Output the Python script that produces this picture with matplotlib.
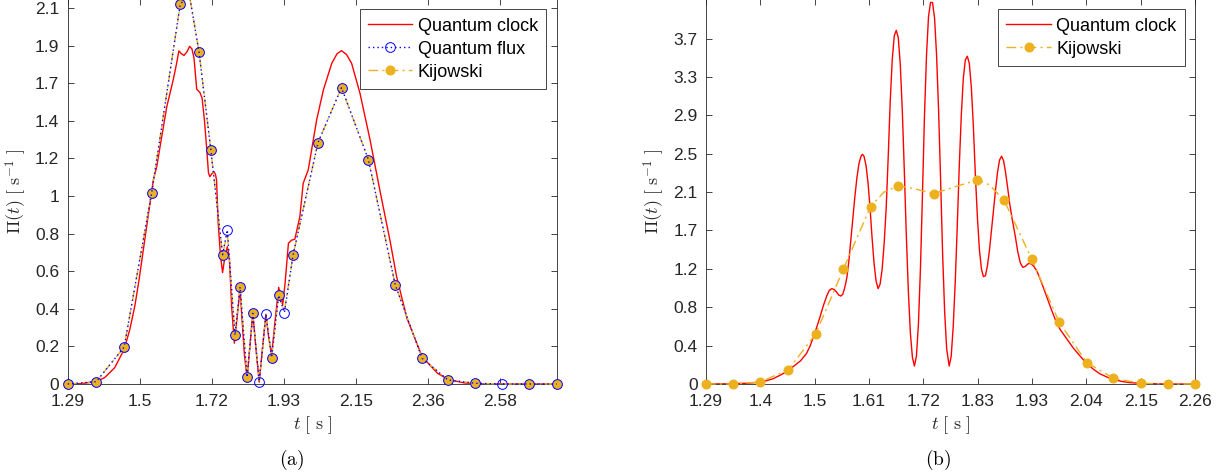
import matplotlib
matplotlib.use('Agg')
import matplotlib.pyplot as plt
import numpy as np

# ---- panel (a) data ----
t_clock_a = [1.290, 1.330, 1.375, 1.400, 1.430, 1.458, 1.475, 1.490, 1.503, 1.515,
             1.530, 1.545, 1.555, 1.570, 1.585, 1.604, 1.614, 1.621, 1.628, 1.636,
             1.645, 1.653, 1.660, 1.666, 1.674, 1.684, 1.690, 1.697, 1.704, 1.709,
             1.713, 1.719, 1.726, 1.730, 1.733, 1.738, 1.745, 1.751, 1.758, 1.765,
             1.771, 1.778, 1.786, 1.794, 1.803, 1.809, 1.816, 1.824, 1.832, 1.841,
             1.850, 1.860, 1.870, 1.880, 1.888, 1.897, 1.908, 1.918, 1.924, 1.930,
             1.937, 1.947, 1.956, 1.966, 1.981, 1.991, 2.006, 2.021, 2.031, 2.051,
             2.076, 2.092, 2.105, 2.120, 2.135, 2.160, 2.190, 2.219, 2.249, 2.269,
             2.300, 2.345, 2.390, 2.422, 2.470, 2.520, 2.746]
clock_a = [0.000, 0.002, 0.013, 0.035, 0.090, 0.190, 0.300, 0.430, 0.580, 0.736,
           0.930, 1.121, 1.194, 1.360, 1.524, 1.670, 1.760, 1.830, 1.815, 1.805,
           1.825, 1.855, 1.840, 1.790, 1.620, 1.600, 1.570, 1.450, 1.286, 1.160,
           1.139, 1.155, 1.166, 1.150, 1.121, 0.883, 0.700, 0.612, 0.700, 0.754,
           0.700, 0.425, 0.224, 0.360, 0.526, 0.350, 0.160, 0.031, 0.200, 0.388,
           0.200, 0.010, 0.200, 0.383, 0.260, 0.159, 0.360, 0.531, 0.480, 0.434,
           0.553, 0.773, 0.790, 0.795, 0.919, 1.103, 1.176, 1.341, 1.451, 1.615,
           1.762, 1.815, 1.831, 1.810, 1.762, 1.597, 1.341, 1.066, 0.791, 0.590,
           0.360, 0.150, 0.060, 0.025, 0.006, 0.000, 0.000]

t_approx_a = [1.290, 1.375, 1.458, 1.540, 1.625, 1.652, 1.681, 1.716, 1.751, 1.765,
              1.788, 1.803, 1.824, 1.841, 1.860, 1.880, 1.897, 1.918, 1.935, 1.961,
              2.035, 2.105, 2.185, 2.265, 2.345, 2.422, 2.503, 2.584, 2.664, 2.746]
flux_a = [0.000, 0.013, 0.203, 1.051, 2.086, 2.140, 1.822, 1.287, 0.710, 0.846,
          0.268, 0.533, 0.037, 0.388, 0.013, 0.383, 0.145, 0.487, 0.392, 0.710,
          1.326, 1.628, 1.233, 0.544, 0.141, 0.022, 0.004, 0.000, 0.000, 0.000]
kij_a = [0.000, 0.013, 0.203, 1.051, 2.086, 2.140, 1.822, 1.287, 0.710, 0.830,
         0.268, 0.533, 0.037, 0.388, 0.013, 0.380, 0.145, 0.487, 0.400, 0.710,
         1.326, 1.628, 1.233, 0.544, 0.141, 0.022, 0.004, 0.000, 0.000, 0.000]
flux_marks_a = [i for i in range(len(t_approx_a)) if i != 5]
kij_marks_a = [i for i in range(len(t_approx_a)) if i not in (5, 9, 14, 15, 18, 27)]

xlabels_a = ['1.29', '1.5', '1.72', '1.93', '2.15', '2.36', '2.58']
ylabels_a = ['0', '0.2', '0.4', '0.6', '0.8', '1', '1.2', '1.4', '1.7', '1.9', '2.1']

# ---- panel (b) data ----
t_clock_b = [1.2875, 1.330, 1.370, 1.398, 1.420, 1.440, 1.461, 1.475, 1.487, 1.494,
             1.500, 1.507, 1.514, 1.520, 1.527, 1.532, 1.537, 1.542, 1.547, 1.551,
             1.555, 1.559, 1.563, 1.567, 1.571, 1.575, 1.579, 1.583, 1.587, 1.591,
             1.595, 1.598, 1.601, 1.605, 1.609, 1.613, 1.617, 1.621, 1.625, 1.629,
             1.633, 1.637, 1.641, 1.645, 1.649, 1.653, 1.657, 1.661, 1.665, 1.669,
             1.673, 1.677, 1.681, 1.685, 1.689, 1.693, 1.697, 1.701, 1.705, 1.709,
             1.713, 1.717, 1.721, 1.725, 1.729, 1.733, 1.737, 1.741, 1.745, 1.749,
             1.753, 1.757, 1.761, 1.765, 1.770, 1.774, 1.778, 1.782, 1.786, 1.790,
             1.794, 1.798, 1.802, 1.806, 1.810, 1.814, 1.818, 1.822, 1.826, 1.830,
             1.834, 1.838, 1.842, 1.846, 1.850, 1.854, 1.858, 1.862, 1.866, 1.870,
             1.874, 1.878, 1.882, 1.886, 1.890, 1.895, 1.901, 1.906, 1.911, 1.916,
             1.921, 1.927, 1.932, 1.938, 1.944, 1.950, 1.957, 1.965, 1.973, 1.981,
             1.990, 2.003, 2.016, 2.030, 2.043, 2.056, 2.069, 2.083, 2.096, 2.115,
             2.130, 2.160, 2.200, 2.2577]
clock_b = [0.000, 0.002, 0.008, 0.022, 0.055, 0.110, 0.190, 0.250, 0.330, 0.410,
           0.500, 0.610, 0.730, 0.840, 0.950, 1.010, 1.030, 1.020, 0.990, 0.960,
           0.950, 0.970, 1.045, 1.150, 1.330, 1.560, 1.800, 2.030, 2.230, 2.380,
           2.460, 2.480, 2.460, 2.360, 2.170, 1.900, 1.580, 1.300, 1.110, 1.030,
           1.080, 1.240, 1.520, 1.900, 2.450, 3.050, 3.500, 3.760, 3.820, 3.740,
           3.450, 2.950, 2.300, 1.600, 1.000, 0.550, 0.290, 0.194, 0.300, 0.650,
           1.250, 2.050, 2.900, 3.550, 3.970, 4.120, 4.120, 3.950, 3.550, 2.950,
           2.200, 1.400, 0.780, 0.380, 0.194, 0.300, 0.620, 1.100, 1.700, 2.350,
           2.900, 3.300, 3.500, 3.540, 3.460, 3.200, 2.780, 2.250, 1.800, 1.450,
           1.240, 1.160, 1.170, 1.280, 1.450, 1.660, 1.880, 2.100, 2.290, 2.420,
           2.460, 2.410, 2.280, 2.120, 1.950, 1.780, 1.600, 1.430, 1.310, 1.260,
           1.270, 1.300, 1.300, 1.270, 1.220, 1.140, 1.040, 0.920, 0.800, 0.690,
           0.590, 0.490, 0.390, 0.300, 0.220, 0.160, 0.110, 0.075, 0.048, 0.025,
           0.014, 0.004, 0.000, 0.000]

t_kij_b = [1.2875, 1.3414, 1.3953, 1.451, 1.505, 1.560, 1.614, 1.640, 1.669, 1.700,
           1.739, 1.780, 1.826, 1.850, 1.879, 1.934, 1.988, 2.043, 2.096, 2.150,
           2.204, 2.2577]
kij_b = [0.000, 0.000, 0.022, 0.155, 0.540, 1.239, 1.916, 2.070, 2.142, 2.110,
         2.056, 2.127, 2.205, 2.150, 1.984, 1.347, 0.670, 0.231, 0.062, 0.008,
         0.000, 0.000]
kij_marks_b = [i for i in range(len(t_kij_b)) if i not in (7, 9, 11, 13)]

xlabels_b = ['1.29', '1.4', '1.5', '1.61', '1.72', '1.83', '1.93', '2.04', '2.15', '2.26']
ylabels_b = ['0', '0.4', '0.8', '1.2', '1.7', '2.1', '2.5', '2.9', '3.3', '3.7']

RED = '#ff0000'
BLUE = '#0000ff'
ORANGE = '#edb120'
DARK = '#262626'

plt.rcParams['font.family'] = ['Liberation Sans', 'DejaVu Sans']
plt.rcParams['mathtext.fontset'] = 'cm'


def style_axes(ax, xticks, xlabels, yticks, ylabels, xlim, ylim):
    ax.set_xlim(*xlim)
    ax.set_ylim(*ylim)
    ax.set_xticks(xticks)
    ax.set_xticklabels(xlabels)
    ax.set_yticks(yticks)
    ax.set_yticklabels(ylabels)
    ax.tick_params(direction='in', length=4, width=0.6, top=True, right=True,
                   colors=DARK, labelsize=12.5)
    ax.tick_params(axis='x', pad=7)
    ax.tick_params(axis='y', pad=6)
    for s in ax.spines.values():
        s.set_color(DARK)
        s.set_linewidth(0.6)
    ax.set_xlabel(r'$t\ [\ \mathrm{s}\ ]$', fontsize=13, color=DARK, labelpad=4)
    ax.set_ylabel(r'$\Pi(t)\ [\ \mathrm{s}^{-1}\ ]$', fontsize=13, color=DARK)
    ax.yaxis.set_label_coords(-39 / 489, 0.5)


def legend(ax, handles):
    lg = ax.legend(handles=handles, loc='upper right', fontsize=13,
                   fancybox=False, framealpha=1, edgecolor=DARK,
                   borderaxespad=0.58, borderpad=0.45, labelspacing=0.33,
                   handlelength=2.45, handletextpad=0.3)
    lg.get_frame().set_linewidth(0.6)


fig = plt.figure(figsize=(12.22, 4.75), dpi=100)
ax_a = fig.add_axes([0.0554, 0.19158, 0.40016, 0.81053])
ax_b = fig.add_axes([0.57774, 0.19158, 0.40016, 0.81053])

dashdot = (0, (7, 3, 1.5, 3))

# (a)
l1, = ax_a.plot(t_clock_a, clock_a, color=RED, lw=1.0, zorder=2, label='Quantum clock')
l3, = ax_a.plot(t_approx_a, kij_a, color=ORANGE, lw=1.0, ls=dashdot, marker='o',
                ms=6.2, mfc=ORANGE, mec=ORANGE, markevery=kij_marks_a,
                zorder=3, clip_on=False, label='Kijowski')
l2, = ax_a.plot(t_approx_a, flux_a, color=BLUE, lw=1.0, ls=(0, (1, 2.2)), marker='o',
                ms=7, mfc='none', mec=BLUE, mew=0.7, markevery=flux_marks_a,
                zorder=4, clip_on=False, label='Quantum flux')
style_axes(ax_a, 1.29 + 0.2143 * np.arange(7), xlabels_a,
           0.2066 * np.arange(11), ylabels_a, (1.29, 2.7455), (0, 2.115))
legend(ax_a, [l1, l2, l3])

# (b)
m1, = ax_b.plot(t_clock_b, clock_b, color=RED, lw=1.0, zorder=2, label='Quantum clock')
m2, = ax_b.plot(t_kij_b, kij_b, color=ORANGE, lw=1.0, ls=dashdot, marker='o',
                ms=6.2, mfc=ORANGE, mec=ORANGE, markevery=kij_marks_b,
                zorder=3, clip_on=False, label='Kijowski')
style_axes(ax_b, np.linspace(1.2875, 2.2577, 10), xlabels_b,
           0.4145 * np.arange(10), ylabels_b, (1.2875, 2.2577), (0, 4.158))
legend(ax_b, [m1, m2])

fig.text(292 / 1222, 1 - 460 / 475, r'$\mathrm{(a)}$', fontsize=14, ha='center', va='center')
fig.text(938 / 1222, 1 - 460 / 475, r'$\mathrm{(b)}$', fontsize=14, ha='center', va='center')

fig.savefig('out.png', dpi=100)
